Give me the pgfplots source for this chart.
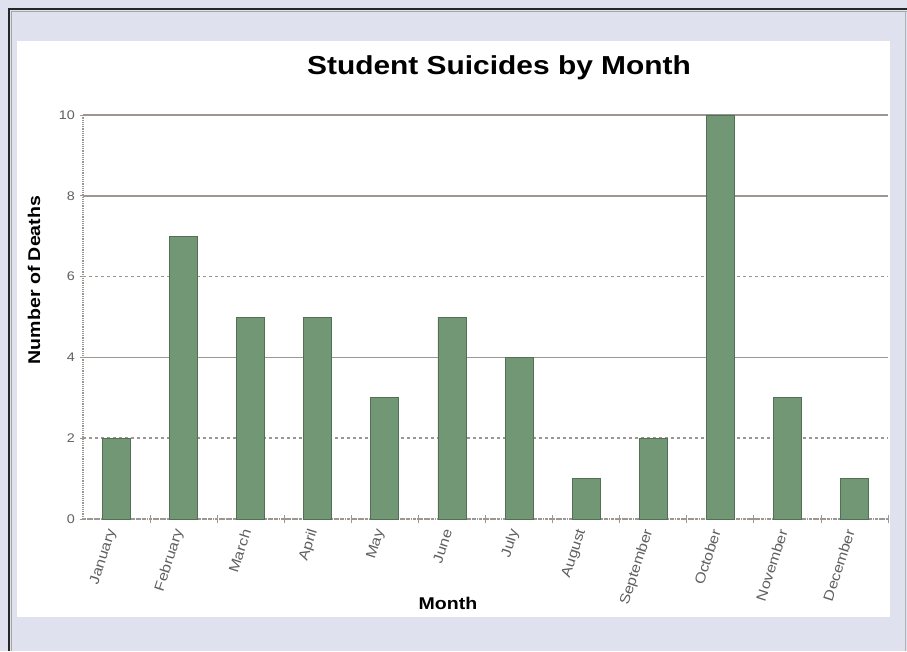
\documentclass[border=0pt]{standalone}
\usepackage{fontspec}
\setmainfont{Liberation Sans}[FakeStretch=1.15]
\usepackage{pgfplots}
\pgfplotsset{compat=1.18}
\definecolor{lav}{HTML}{DFE1EE}
\definecolor{barfill}{HTML}{729774}
\definecolor{baredge}{HTML}{536F55}
\definecolor{gridc}{HTML}{9E9690}
\definecolor{tickc}{HTML}{606060}
\begin{document}
\begin{tikzpicture}[x=1pt,y=1pt]
\path[use as bounding box] (0,0) rectangle (907,651);
\fill[lav] (0,0) rectangle (907,651);
\draw[line width=1.2pt, black!85] (9,0) -- (9,642) -- (907,642);
\draw[line width=0.8pt, gray!70] (11,0) -- (11,640) -- (907,640);
\draw[line width=0.8pt, gray!60] (905.5,0) -- (905.5,640);
\fill[white] (17,34) rectangle (890,610);
\begin{axis}[
  at={(83pt,132pt)}, anchor=south west,
  scale only axis, width=805pt, height=404pt,
  xmin=-0.5, xmax=11.5, ymin=0, ymax=10,
  ybar, bar width=28pt, bar shift=0pt,
  axis x line*=bottom, axis y line*=left,
  x axis line style={-, gridc, densely dotted, line width=1.2pt},
  y axis line style={-, gridc, densely dotted, line width=1.2pt},
  xtick={0,...,11},
  xticklabels={January,February,March,April,May,June,July,August,September,October,November,December},
  major x tick style={draw=none},
  minor xtick={0.5,1.5,...,11.5},
  minor tick length=8pt,
  minor x tick style={gridc, line width=0.8pt},
  tick align=center,
  xticklabel style={xshift=-3pt, yshift=-4pt, rotate=72, anchor=east, font=\fontsize{14}{14}\selectfont, text=tickc},
  ytick={4,8,10},
  extra y ticks={0,2,6},
  extra y tick style={grid=major, major grid style={gridc, line width=1.5pt, dashed}},
  ymajorgrids,
  major grid style={gridc, line width=1.5pt},
  major tick length=7pt,
  major y tick style={gridc, line width=0.8pt},
  yticklabel style={font=\fontsize{12.5}{12.5}\selectfont, text=tickc, xshift=-1pt},
  /pgf/number format/assume math mode=true,
  clip=false,
]
\addplot[fill=barfill, draw=baredge, line width=0.8pt] coordinates {
(0,2) (1,7) (2,5) (3,5) (4,3) (5,5) (6,4) (7,1) (8,2) (9,10) (10,3) (11,1)};
\end{axis}
\node[font=\bfseries\fontsize{26}{26}\selectfont] at (499,583) {Student Suicides by Month};
\node[font=\bfseries\fontsize{17}{17}\selectfont, rotate=90] at (34,371) {Number of Deaths};
\node[font=\bfseries\fontsize{17}{17}\selectfont] at (448,48) {Month};
\end{tikzpicture}
\end{document}
